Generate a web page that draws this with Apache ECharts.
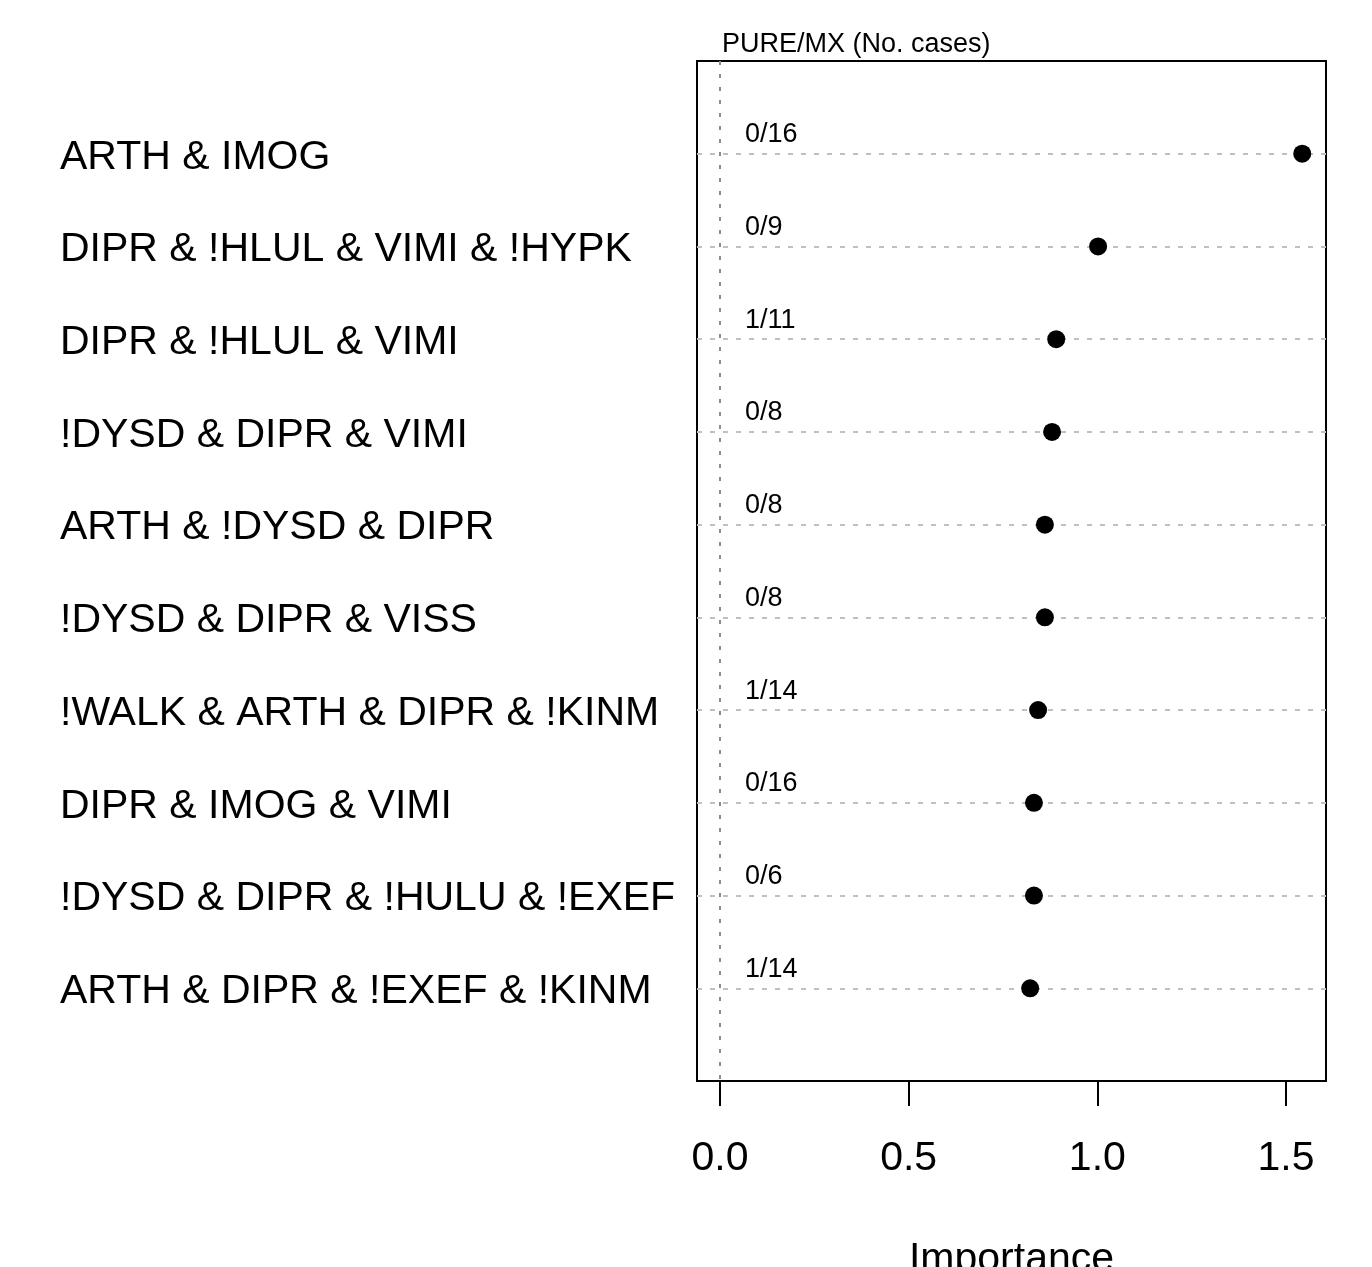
<!DOCTYPE html>
<html>
<head>
<meta charset="utf-8">
<script src="https://cdn.jsdelivr.net/npm/echarts@6/dist/echarts.min.js"></script>
<style>
  html, body { margin: 0; padding: 0; background: #fff; }
  #chart { width: 1372px; height: 1267px; }
</style>
</head>
<body>
<div id="chart"></div>
<script>
// ---- data ----
const categories = [
  'ARTH & IMOG',
  'DIPR & !HLUL & VIMI & !HYPK',
  'DIPR & !HLUL & VIMI',
  '!DYSD & DIPR & VIMI',
  'ARTH & !DYSD & DIPR',
  '!DYSD & DIPR & VISS',
  '!WALK & ARTH & DIPR & !KINM',
  'DIPR & IMOG & VIMI',
  '!DYSD & DIPR & !HULU & !EXEF',
  'ARTH & DIPR & !EXEF & !KINM'
];
const importance = [1.543, 1.002, 0.891, 0.880, 0.861, 0.861, 0.843, 0.832, 0.832, 0.822];
const cases = ['0/16', '0/9', '1/11', '0/8', '0/8', '0/8', '1/14', '0/16', '0/6', '1/14'];
const xTicks = [0, 0.5, 1.0, 1.5];
const xTickLabels = ['0.0', '0.5', '1.0', '1.5'];
const caseLabelX = 0.066;
const xMin = -0.061, xMax = 1.606;

// ---- build ----
const FONT = "'Liberation Sans', Arial, Helvetica, sans-serif";
const rowPos = categories.map((c, i) => i + 1);
const pointData = importance.map((v, i) => [v, rowPos[i]]);
const caseData = cases.map((c, i) => [caseLabelX, rowPos[i], c]);

const chart = echarts.init(document.getElementById('chart'), null, { renderer: 'canvas' });
chart.setOption({
  animation: false,
  backgroundColor: '#fff',
  title: {
    text: 'PURE/MX (No. cases)',
    left: 722, top: 31, padding: 0,
    textStyle: { fontFamily: FONT, fontSize: 27, fontWeight: 'normal', color: '#000' }
  },
  grid: {
    left: 697, right: 46, top: 61, bottom: 186,
    outerBoundsMode: 'none', containLabel: false,
    show: true, borderColor: '#000', borderWidth: 2, backgroundColor: 'transparent'
  },
  xAxis: {
    type: 'value', min: xMin, max: xMax,
    name: 'Importance', nameLocation: 'middle', nameGap: 158,
    nameTextStyle: { fontFamily: FONT, fontSize: 41, color: '#000' },
    axisLine: { show: true, onZero: false, lineStyle: { color: '#000', width: 2 } },
    axisTick: { show: true, length: 25, inside: false, customValues: xTicks, lineStyle: { color: '#000', width: 2 } },
    axisLabel: {
      customValues: xTicks, margin: 57,
      fontFamily: FONT, fontSize: 41, color: '#000',
      formatter: v => { const k = xTicks.findIndex(t => Math.abs(t - v) < 1e-9); return k >= 0 ? xTickLabels[k] : ''; }
    },
    splitLine: { show: false }
  },
  yAxis: {
    type: 'value', min: 0, max: 11, inverse: true,
    axisLine: { show: true, onZero: false, lineStyle: { color: '#000', width: 2 } },
    axisTick: { show: false },
    splitLine: { show: false },
    axisLabel: {
      customValues: rowPos, align: 'left', margin: 637,
      fontFamily: FONT, fontSize: 41, color: '#000',
      formatter: v => '{r|' + (categories[Math.round(v) - 1] || '') + '}',
      rich: {
        r: { fontFamily: FONT, fontSize: 41, color: '#000', padding: [7, 0, 0, 0] }
      }
    }
  },
  series: [
    {
      type: 'scatter', name: 'guides', data: [], silent: true,
      markLine: {
        silent: true, symbol: ['none', 'none'], label: { show: false }, animation: false,
        lineStyle: { color: '#c0c0c0', width: 2, type: [5, 8], opacity: 1 },
        data: rowPos.map(p => ({ yAxis: p }))
      }
    },
    {
      type: 'scatter', name: 'zero', data: [], silent: true,
      markLine: {
        silent: true, symbol: ['none', 'none'], label: { show: false }, animation: false,
        lineStyle: { color: '#8c8c8c', width: 2, type: [4, 9], opacity: 1 },
        data: [{ xAxis: 0 }]
      }
    },
    {
      type: 'scatter', name: 'cases', data: caseData, symbolSize: 0.01, silent: true,
      itemStyle: { color: '#000' },
      label: {
        show: true, position: [0, -19], align: 'left', verticalAlign: 'middle',
        fontFamily: FONT, fontSize: 27, color: '#000', opacity: 1, textBorderWidth: 0,
        formatter: p => p.data[2]
      }
    },
    {
      type: 'scatter', name: 'importance', data: pointData, symbol: 'circle', symbolSize: 18,
      itemStyle: { color: '#000', opacity: 1 }, z: 5
    }
  ]
});
</script>
</body>
</html>
